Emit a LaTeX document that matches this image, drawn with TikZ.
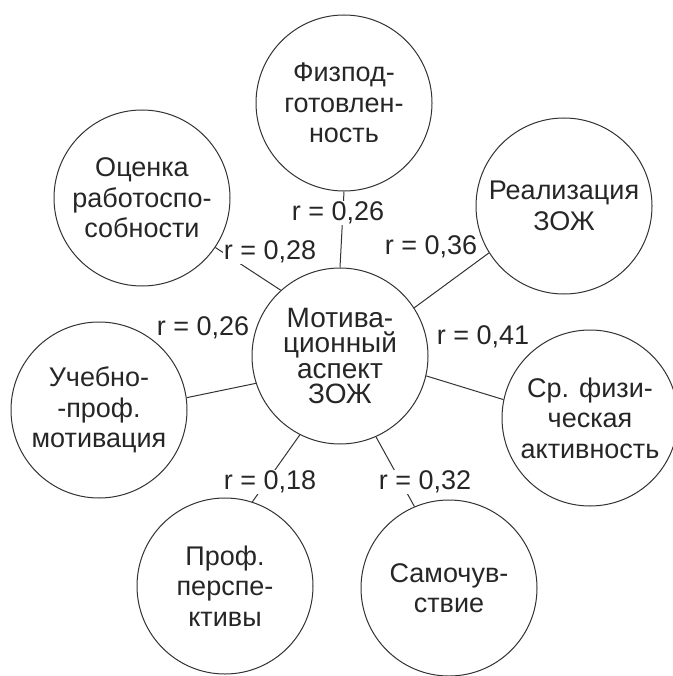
\documentclass[tikz,border=0pt]{standalone}
\usepackage{fontspec}
\setmainfont{Liberation Sans}

\begin{document}
\begin{tikzpicture}[
    x=1pt, y=-1pt,
    factor/.style={circle, draw=black!80, line width=1pt, minimum size=176pt, inner sep=0pt, align=center, text=black!85, font=\fontsize{27}{30.5}\selectfont},
    corr/.style={fill=white, inner sep=1pt, text=black!85, font=\fontsize{27}{29}\selectfont},
    link/.style={draw=black!80, line width=1pt}
]
\useasboundingbox (0,0) rectangle (672,676);

% Central factor
\node[factor, font=\fontsize{28}{25.5}\selectfont] (motiv) at (340,356) {Мотива-\\ционный\\аспект\\ЗОЖ};

% Surrounding factors
\node[factor] (fizpod) at (344,103) {Физпод-\\готовлен-\\ность};
\node[factor] (realiz) at (564,206) {Реализация\\ЗОЖ};
\node[factor] (srfiz) at (590,418) {Ср. физи-\\ческая\\активность};
\node[factor] (samoch) at (449,588) {Самочув-\\ствие};
\node[factor] (persp) at (225,586) {Проф.\\перспе-\\ктивы};
\node[factor] (uchprof) at (99,410) {Учебно-\\-проф.\\мотивация};
\node[factor] (rabot) at (142,198) {Оценка\\работоспо-\\собности};

% Links
\draw[link] (fizpod.south) -- (motiv.north);
\draw[link] (rabot.-34) -- (motiv.132);
\draw[link] (motiv.33) -- (realiz.-148);
\draw[link] (uchprof.8) -- (motiv.198);
\draw[link] (motiv.-13) -- (srfiz.168);
\draw[link] (motiv.-117) -- (persp.72);
\draw[link] (motiv.-66) -- (samoch.113);

% Correlations
\node[corr] (rfiz) at (338,213) {r = 0,26};
\node[corr] (rrab) at (270,252) {r = 0,28};
\node[corr] (rreal) at (431,247) {r = 0,36};
\node[corr] (ruch) at (203,328) {r = 0,26};
\node[corr] (rsr) at (483,337) {r = 0,41};
\node[corr] (rpers) at (270,482) {r = 0,18};
\node[corr] (rsam) at (425,482) {r = 0,32};
\end{tikzpicture}
\end{document}
